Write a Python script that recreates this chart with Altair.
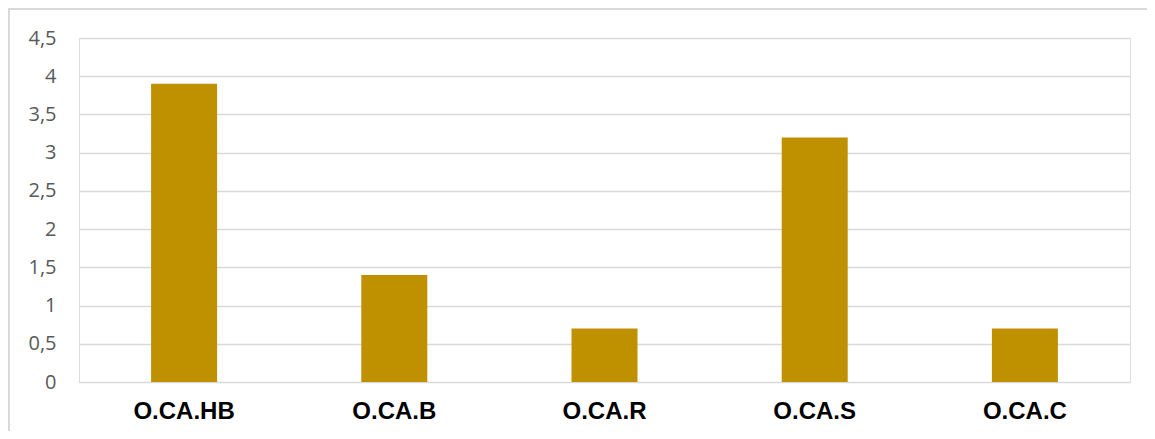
import altair as alt
import pandas as pd

categories = ["O.CA.HB", "O.CA.B", "O.CA.R", "O.CA.S", "O.CA.C"]
values = [3.9, 1.4, 0.7, 3.2, 0.7]
y_ticks = [0, 0.5, 1, 1.5, 2, 2.5, 3, 3.5, 4, 4.5]

df = pd.DataFrame({"cat": categories, "val": values})

W, H = 1051, 344

bars = alt.Chart(df).mark_bar(color="#BF9000").encode(
    x=alt.X("cat:N", sort=categories, title=None,
            scale=alt.Scale(paddingInner=0.686, paddingOuter=0.343),
            axis=alt.Axis(labelAngle=0, labelFont="Liberation Sans", labelFontWeight="bold",
                          labelFontSize=24, labelColor="#000000", labelPadding=17,
                          domain=False, ticks=False, grid=False)),
    y=alt.Y("val:Q", title=None,
            scale=alt.Scale(domain=[0, 4.5], nice=False),
            axis=alt.Axis(values=y_ticks, format=",.1~f", labelFont="Open Sans",
                          labelFontSize=20, labelColor="#595959", labelPadding=23,
                          domain=False, ticks=False, grid=True, gridColor="#D9D9D9",
                          gridWidth=1.5, labelExpr="replace(datum.label, '.', ',')")),
)

frame = alt.Chart(df).mark_rect(fill=None, stroke="#D9D9D9", strokeWidth=2).encode(
    x=alt.value(-70), x2=alt.value(W + 60), y=alt.value(-29), y2=alt.value(H + 90)
)

chart = alt.layer(bars, frame).properties(
    width=W, height=H,
    autosize=alt.AutoSizeParams(type="none"),
    padding={"left": 71, "top": 30, "right": 17, "bottom": 49},
).configure_view(stroke=None).configure(background="white")

chart.save("out.html", embed_options={"renderer": "svg", "actions": False})
